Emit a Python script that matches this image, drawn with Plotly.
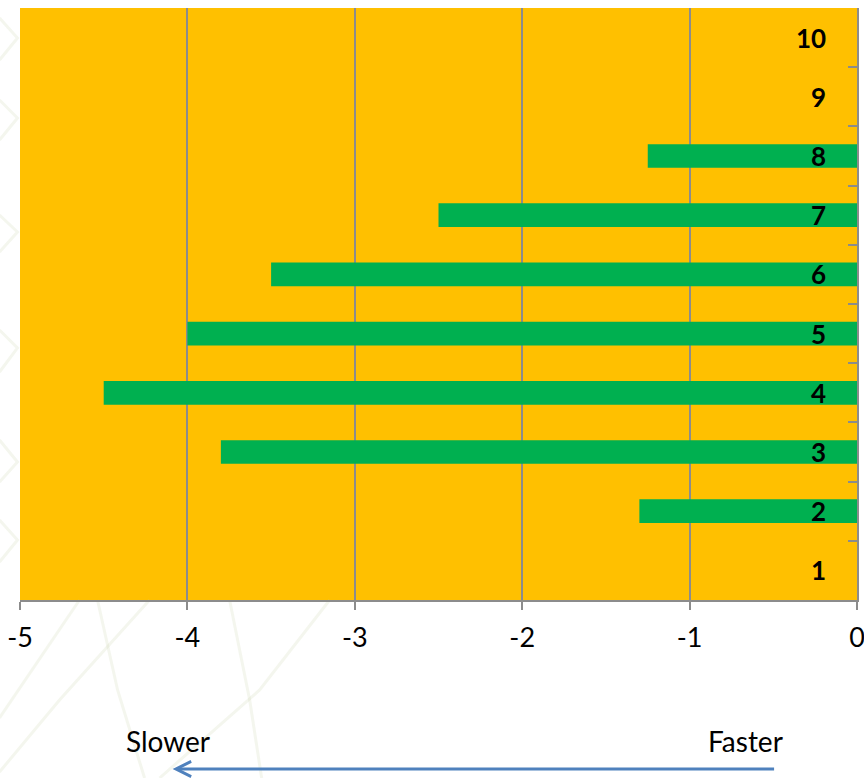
import plotly.graph_objects as go

# Lap-time change per driver (negative = seconds lost)
positions = [1, 2, 3, 4, 5, 6, 7, 8, 9, 10]
delta = [0, -1.3, -3.8, -4.5, -4.0, -3.5, -2.5, -1.25, 0, 0]
position_labels = [str(p) for p in positions]
x_ticks = [-5, -4, -3, -2, -1, 0]

ORANGE = "#FFC000"
GREEN = "#00B050"
GRID = "#8C8C8C"
ARROW = "#4F81BD"
FONT = "Lato"

# plot area in pixels (for placing the paper-referenced extras)
W, H = 864.0, 778.0
PL, PR, PT, PB = 20.5, 857.0, 8.0, 600.0


def px(x):
    return (x - PL) / (PR - PL)


def py(y):
    return (PB - y) / (PB - PT)


fig = go.Figure()
fig.add_trace(go.Bar(
    x=delta, y=positions, orientation="h", width=0.4,
    marker=dict(color=GREEN, line=dict(width=0)),
    hoverinfo="skip", showlegend=False,
))

# Position numbers sit inside the plot, next to the right-hand axis
for p, lab in zip(positions, position_labels):
    fig.add_annotation(
        x=0, y=p, xref="x", yref="y", text=f"<b>{lab}</b>",
        showarrow=False, xanchor="right", yanchor="middle", xshift=-29,
        font=dict(family=FONT, size=26, color="black"),
    )

# Direction hint below the axis
fig.add_annotation(x=px(168.5), y=py(741), xref="paper", yref="paper",
                   text="Slower", showarrow=False, xanchor="center", yanchor="middle",
                   font=dict(family=FONT, size=28, color="black"))
fig.add_annotation(x=px(745.5), y=py(741), xref="paper", yref="paper",
                   text="Faster", showarrow=False, xanchor="center", yanchor="middle",
                   font=dict(family=FONT, size=28, color="black"))
fig.add_annotation(x=px(173), y=py(769), xref="paper", yref="paper",
                   ax=603, ay=0, axref="pixel", ayref="pixel", text="",
                   showarrow=True, arrowhead=5, arrowsize=1.0, arrowwidth=3,
                   arrowcolor=ARROW, standoff=0, startstandoff=0)

# Faint decorative strokes in the page background (outside the plot area)
bg_line = dict(color="rgba(200,208,170,0.20)", width=3)
strokes = [
    [(0, 18), (18, 38), (0, 60)],
    [(0, 100), (18, 118), (0, 140)],
    [(0, 215), (18, 232), (0, 252)],
    [(0, 330), (18, 348), (0, 372)],
    [(0, 440), (18, 462), (0, 482)],
    [(0, 520), (18, 540), (0, 562)],
    [(0, 718), (80, 600)],
    [(0, 772), (60, 700), (150, 600)],
    [(98, 600), (118, 690), (145, 778)],
    [(230, 600), (250, 700), (262, 778)],
    [(160, 778), (260, 690), (330, 600)],
]
for pts in strokes:
    path = "M " + " L ".join(f"{px(x):.4f} {py(y):.4f}" for x, y in pts)
    fig.add_shape(type="path", xref="paper", yref="paper", path=path,
                  line=bg_line, layer="below")

fig.update_layout(
    width=864, height=778,
    margin=dict(l=20, r=7, t=8, b=178, pad=0, autoexpand=False),
    paper_bgcolor="white", plot_bgcolor=ORANGE,
    font=dict(family=FONT, size=27, color="black"),
    bargap=0.6,
    xaxis=dict(
        range=[-5, 0], tickvals=x_ticks, ticktext=[str(v) for v in x_ticks],
        showgrid=True, gridcolor=GRID, gridwidth=1.5,
        showline=True, linecolor=GRID, linewidth=1.5,
        ticks="outside", ticklen=8, tickwidth=1.5, tickcolor=GRID,
        zeroline=False, fixedrange=True, ticklabeloverflow="allow",
        ticklabelstandoff=5, automargin=False,
        tickfont=dict(family=FONT, size=27, color="black"),
    ),
    yaxis=dict(
        range=[0.5, 10.5], side="right", showticklabels=False,
        showgrid=False, zeroline=False, automargin=False,
        showline=True, linecolor=GRID, linewidth=1.5,
        tickvals=[0.5 + i for i in range(11)], ticks="inside", ticklen=9,
        tickwidth=1.5, tickcolor=GRID, fixedrange=True,
    ),
)

fig.write_html("out.html")
